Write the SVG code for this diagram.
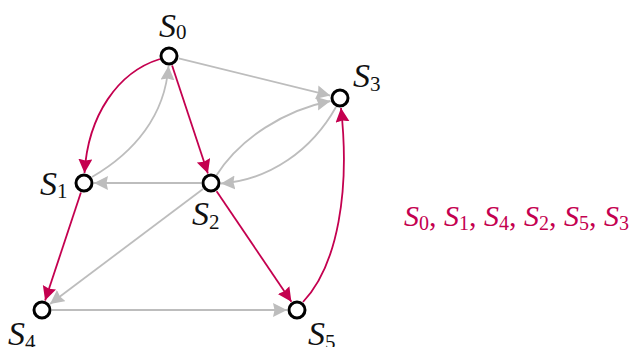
<svg xmlns="http://www.w3.org/2000/svg" width="633" height="347" viewBox="0 0 633 347">
<style>
.e{fill:none;stroke-width:1.8}
.g{stroke:#bdbdbd}
.r{stroke:#c4004f}
.n{fill:#fff;stroke:#000;stroke-width:3}
.l{font-family:"Liberation Serif",serif;font-style:italic;font-size:34px;fill:#111}
.s{font-style:normal;font-size:21px}
.seq{font-family:"Liberation Serif",serif;font-style:italic;font-size:30px;fill:#c4004f}
.ss{font-style:normal;font-size:20px}
.c{font-style:normal}
</style>
<defs>
<marker id="ag" markerUnits="userSpaceOnUse" markerWidth="15" markerHeight="15" refX="14" refY="7" orient="auto"><path d="M0,0 L14,7 L0,14 L1.5,7 z" fill="#bdbdbd"/></marker>
<marker id="ar" markerUnits="userSpaceOnUse" markerWidth="15" markerHeight="15" refX="14" refY="7" orient="auto"><path d="M0,0 L14,7 L0,14 L1.5,7 z" fill="#c4004f"/></marker>
</defs>
<g id="connectors">
<path class="e g" d="M178.7,58.4 L330.3,95.6" marker-end="url(#ag)"/>
<path class="e g" d="M92,177 C135,152 165,115 168.5,66" marker-end="url(#ag)"/>
<path class="e g" d="M201,183 L94,183" marker-end="url(#ag)"/>
<path class="e g" d="M216,176 C240,138 285,110 330.5,101" marker-end="url(#ag)"/>
<path class="e g" d="M336,107 C312,150 270,180 221,183.5" marker-end="url(#ag)"/>
<path class="e g" d="M203,189 L50,304" marker-end="url(#ag)"/>
<path class="e g" d="M52,310 L287,310" marker-end="url(#ag)"/>
<path class="e r" d="M160,59 C118,72 88,115 84.5,173" marker-end="url(#ar)"/>
<path class="e r" d="M172.1,65.5 L207.9,173.5" marker-end="url(#ar)"/>
<path class="e r" d="M80.9,192.5 L45.1,300.5" marker-end="url(#ar)"/>
<path class="e r" d="M216.6,191.3 L291.4,301.7" marker-end="url(#ar)"/>
<path class="e r" d="M303,302 C338,265 350,190 341,108" marker-end="url(#ar)"/>
</g>
<g id="S0"><circle class="n" cx="169" cy="56" r="8"/><text class="l" x="159" y="37">S<tspan class="s" dy="2">0</tspan></text></g>
<g id="S1"><circle class="n" cx="84" cy="183" r="8"/><text class="l" x="40" y="195">S<tspan class="s" dy="3">1</tspan></text></g>
<g id="S2"><circle class="n" cx="211" cy="183" r="8"/><text class="l" x="192" y="225">S<tspan class="s" dy="4">2</tspan></text></g>
<g id="S3"><circle class="n" cx="340" cy="98" r="8"/><text class="l" x="353" y="87">S<tspan class="s" dy="4">3</tspan></text></g>
<g id="S4"><circle class="n" cx="42" cy="310" r="8"/><text class="l" x="8" y="345">S<tspan class="s" dy="4">4</tspan></text></g>
<g id="S5"><circle class="n" cx="297" cy="310" r="8"/><text class="l" x="308" y="345">S<tspan class="s" dy="4">5</tspan></text></g>
<g id="sequence"><text class="seq" x="404" y="226">S<tspan class="ss" dy="4">0</tspan><tspan class="c" dy="-4">, </tspan>S<tspan class="ss" dy="4">1</tspan><tspan class="c" dy="-4">, </tspan>S<tspan class="ss" dy="4">4</tspan><tspan class="c" dy="-4">, </tspan>S<tspan class="ss" dy="4">2</tspan><tspan class="c" dy="-4">, </tspan>S<tspan class="ss" dy="4">5</tspan><tspan class="c" dy="-4">, </tspan>S<tspan class="ss" dy="4">3</tspan></text></g>
</svg>
